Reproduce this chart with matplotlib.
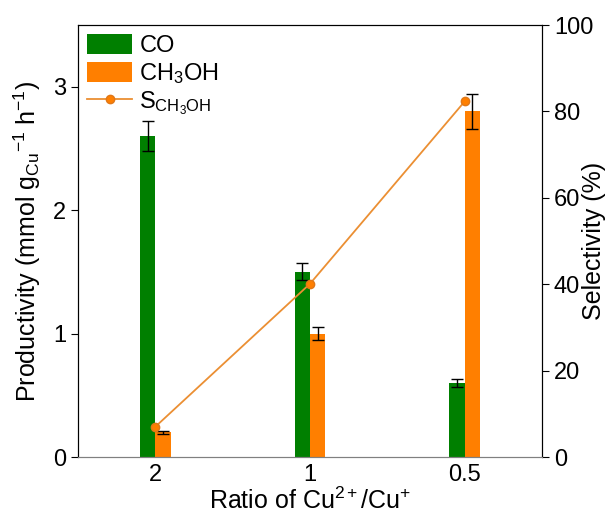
import numpy as np
import matplotlib.pyplot as plt

plt.rcParams['font.family'] = ['Liberation Sans', 'DejaVu Sans']
plt.rcParams['mathtext.fontset'] = 'custom'
plt.rcParams['mathtext.rm'] = 'Liberation Sans'
plt.rcParams['mathtext.it'] = 'Liberation Sans'

ratios = ['2', '1', '0.5']
co = [2.6, 1.5, 0.6]
co_err = [0.12, 0.07, 0.03]
meoh = [0.2, 1.0, 2.8]
meoh_err = [0.01, 0.05, 0.14]
selectivity = [7.0, 40.1, 82.3]

green = '#007F00'
orange = '#FF7F00'
line_c = '#EB8F33'

fig = plt.figure(figsize=(6.14, 5.13), dpi=100)
ax = fig.add_axes([78 / 614, 1 - 457 / 513, 464 / 614, 432 / 513])
ax2 = ax.twinx()

x = np.arange(len(ratios))
w = 0.1
ekw = dict(ecolor='black', elinewidth=1, capthick=1)
b1 = ax.bar(x - w / 2, co, w, color=green, yerr=co_err, capsize=4,
            error_kw=ekw, label='CO')
b2 = ax.bar(x + w / 2, meoh, w, color=orange, yerr=meoh_err, capsize=4,
            error_kw=ekw, label=r'CH$_3$OH')
l1, = ax2.plot(x, selectivity, '-o', color=line_c, lw=1.3, ms=6,
               mfc=orange, mec='#E07818', label=r'S$_{\mathrm{CH_3OH}}$')

ax.set_xlim(-0.5, 2.5)
ax.set_ylim(0, 3.5)
ax2.set_ylim(0, 100)
ax.set_xticks(x)
ax.set_xticklabels(ratios)
ax.set_yticks([0, 1, 2, 3])
ax2.set_yticks([0, 20, 40, 60, 80, 100])
ax.tick_params(axis='x', length=0, labelsize=17, pad=5)
ax.tick_params(axis='y', direction='out', length=5, labelsize=17)
ax2.tick_params(axis='y', direction='out', length=5, labelsize=17)

for a in (ax, ax2):
    a.spines['bottom'].set_color('#808080')

ax.set_xlabel(r'Ratio of Cu$^{2+}$/Cu$^{+}$', fontsize=18, labelpad=1)
ax.set_ylabel(r'Productivity (mmol g$_{\mathrm{Cu}}$$^{-1}$ h$^{-1}$)',
              fontsize=18, va='center')
ax.yaxis.set_label_coords(-0.11, 0.5)
ax2.set_ylabel('Selectivity (%)', fontsize=18, va='center')
ax2.yaxis.set_label_coords(1.112, 0.5)

ax.legend(handles=[b1, b2, l1], loc='upper left', frameon=False, fontsize=17,
          handlelength=1.9, handleheight=0.9, borderaxespad=0.1,
          labelspacing=0.15, handletextpad=0.3, borderpad=0.3)

fig.savefig('out.png', dpi=100)
